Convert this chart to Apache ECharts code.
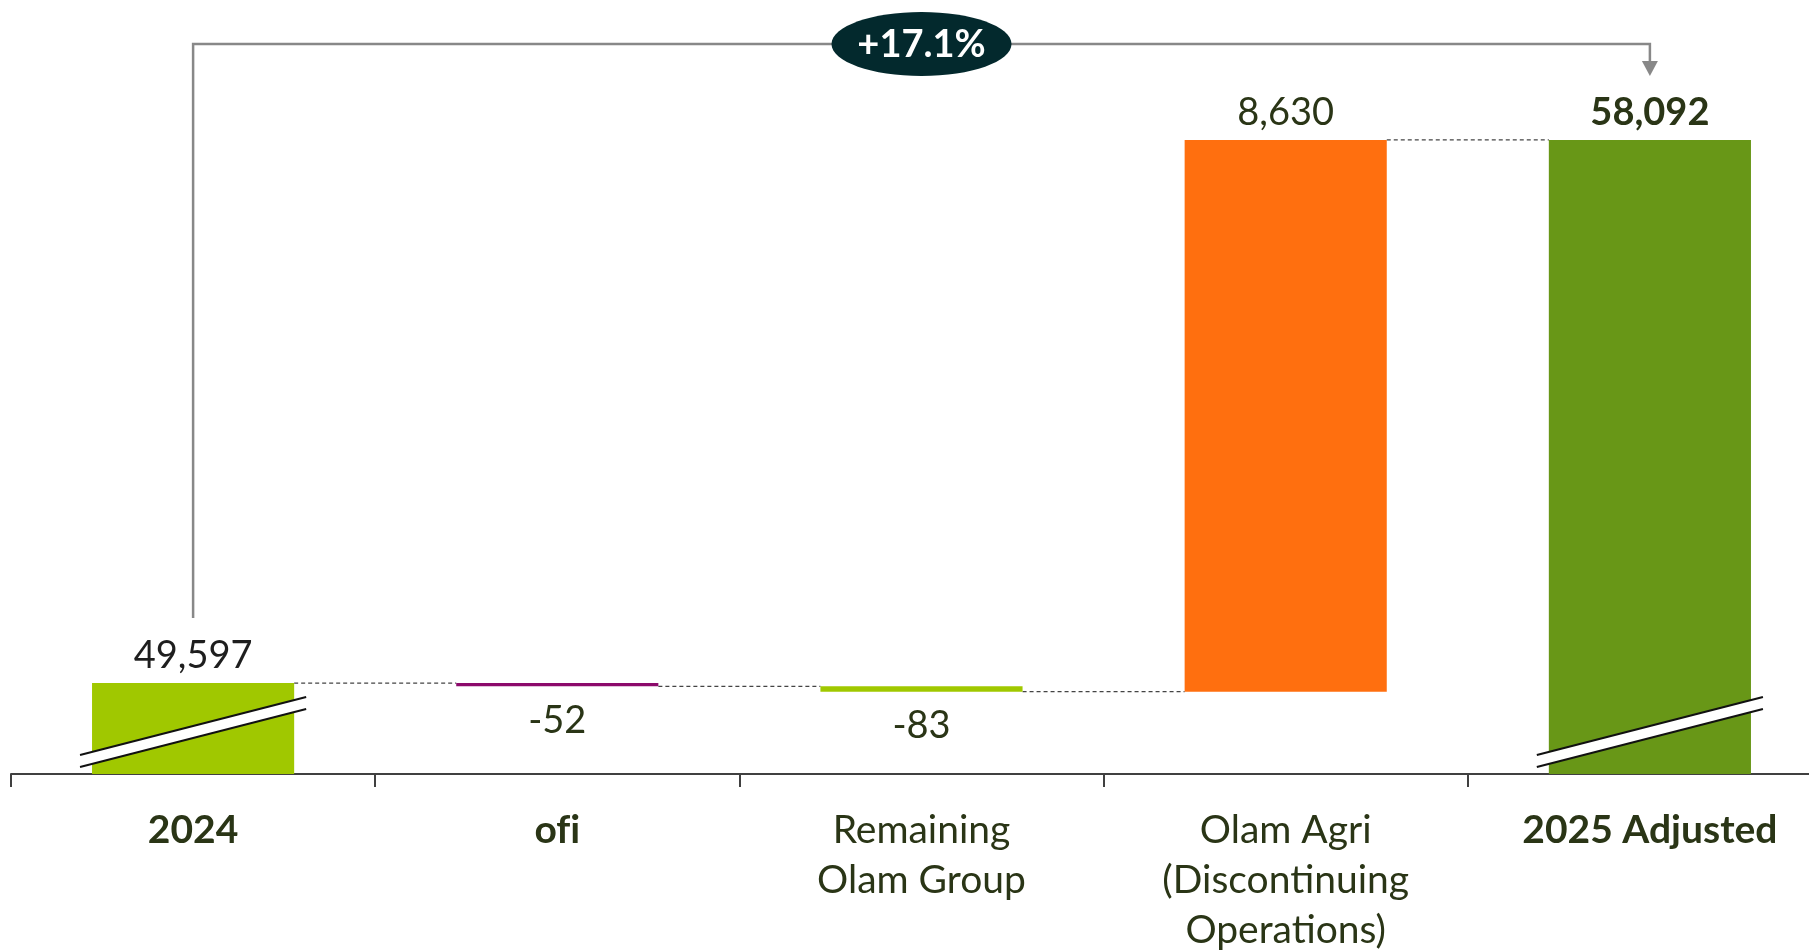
<!DOCTYPE html>
<html>
<head>
<meta charset="utf-8">
<script src="https://cdn.jsdelivr.net/npm/echarts@6/dist/echarts.min.js"></script>
<style>
html,body{margin:0;padding:0;background:#fff;}
#chart{width:1809px;height:951px;}
</style>
</head>
<body>
<div id="chart"></div>
<script>
const categories = ['2024', 'ofi', 'Remaining\nOlam Group', 'Olam Agri\n(Discontinuing\nOperations)', '2025 Adjusted'];
const amounts = [49597, -52, -83, 8630, 58092];
const totalFlags = [true, false, false, false, true];
const amountLabels = ['49,597', '-52', '-83', '8,630', '58,092'];
const boldCategories = [true, true, false, false, true];
const barColors = ['#A0C800', '#8C0A6B', '#A0C800', '#FF6F0F', '#689717'];
const changeLabel = '+17.1%';
const brokenBars = [0, 4];
const axisMin = 48174;
const axisMax = 60000;

const BAR_RATIO = 0.555;
const TEXT = '#2A3516';

// waterfall derivation
const base = [], delta = [], levels = [];
let running = 0;
amounts.forEach((a, i) => {
  if (totalFlags[i]) {
    base.push(0); delta.push(a); running = a;
  } else {
    const end = running + a;
    base.push(Math.min(running, end)); delta.push(Math.abs(a)); running = end;
  }
  levels.push(running);
});

const visibleData = delta.map((v, i) => {
  const neg = !totalFlags[i] && amounts[i] < 0;
  return {
    value: v,
    itemStyle: { color: barColors[i] },
    label: {
      show: true,
      position: neg ? 'bottom' : 'top',
      distance: neg ? 14 : 7,
      formatter: amountLabels[i],
      fontFamily: 'Lato',
      fontSize: 38,
      lineHeight: 40,
      fontWeight: i === 4 ? 'bold' : 'normal',
      color: i === 0 ? '#1E1E1E' : TEXT
    }
  };
});

// avoid the typographic "fi" ligature so the label looks like the original
const noLigature = s => s.replace(/fi/g, 'f\u200Ci');

const chart = echarts.init(document.getElementById('chart'));
chart.setOption({
  animation: false,
  backgroundColor: '#ffffff',
  grid: { left: 11, width: 1821, top: 18, bottom: 177, containLabel: false, outerBoundsMode: 'none' },
  xAxis: {
    type: 'category',
    data: categories,
    boundaryGap: true,
    axisLine: { show: true, lineStyle: { color: '#404040', width: 2 } },
    axisTick: { show: true, length: 13, lineStyle: { color: '#404040', width: 2 } },
    axisLabel: {
      interval: 0,
      margin: 31,
      fontFamily: 'Lato',
      fontSize: 39,
      lineHeight: 50,
      color: TEXT,
      hideOverlap: false,
      formatter: (val, idx) => boldCategories[idx] ? '{b|' + noLigature(val) + '}' : noLigature(val),
      rich: {
        b: { fontFamily: 'Lato', fontSize: 39, lineHeight: 50, fontWeight: 'bold', color: TEXT }
      }
    }
  },
  yAxis: {
    type: 'value', min: axisMin, max: axisMax, show: false,
    splitLine: { show: false }
  },
  series: [
    {
      type: 'bar', stack: 'wf', barWidth: (BAR_RATIO * 100) + '%',
      itemStyle: { color: 'transparent' }, emphasis: { disabled: true },
      data: base, silent: true
    },
    {
      type: 'bar', stack: 'wf', barWidth: (BAR_RATIO * 100) + '%',
      data: visibleData, emphasis: { disabled: true }
    },
    {
      // dashed connectors between bars
      type: 'custom', silent: true, z: 1,
      data: levels.slice(0, levels.length - 1).map((lv, i) => [i, lv]),
      renderItem: (params, api) => {
        const i = api.value(0), lv = api.value(1);
        const p1 = api.coord([i, lv]);
        const p2 = api.coord([i + 1, lv]);
        const half = api.size([1, 0])[0] * BAR_RATIO / 2;
        return {
          type: 'line',
          shape: { x1: p1[0] + half, y1: p1[1], x2: p2[0] - half, y2: p2[1] },
          style: { stroke: '#444444', lineWidth: 1.3, lineDash: [4, 3] }
        };
      }
    },
    {
      // axis-break marks on the total bars
      type: 'custom', silent: true, z: 5, clip: false,
      data: brokenBars.map(i => [i, axisMin]),
      renderItem: (params, api) => {
        const p = api.coord([api.value(0), api.value(1)]);
        const w = api.size([1, 0])[0] * BAR_RATIO + 24;
        const xl = p[0] - w / 2, xr = p[0] + w / 2, y = p[1];
        return {
          type: 'group',
          children: [
            { type: 'polygon', shape: { points: [[xl, y - 19], [xr, y - 77], [xr, y - 65], [xl, y - 7]] }, style: { fill: '#ffffff' } },
            { type: 'line', shape: { x1: xl, y1: y - 19, x2: xr, y2: y - 77 }, style: { stroke: '#111', lineWidth: 2 } },
            { type: 'line', shape: { x1: xl, y1: y - 7, x2: xr, y2: y - 65 }, style: { stroke: '#111', lineWidth: 2 } }
          ]
        };
      }
    },
    {
      // growth bracket with arrow and badge
      type: 'custom', silent: true, z: 6, clip: false,
      data: [[0, levels[0], 4, levels[4]]],
      renderItem: (params, api) => {
        const a = api.coord([api.value(0), api.value(1)]);
        const b = api.coord([api.value(2), api.value(3)]);
        const mid = api.coord([2, api.value(3)]);
        const hy = Math.min(a[1], b[1]) - 96;
        const leftBottom = a[1] - 65;
        const tipY = b[1] - 64;
        const col = '#888888';
        return {
          type: 'group',
          children: [
            { type: 'polyline', shape: { points: [[a[0], leftBottom], [a[0], hy], [b[0], hy], [b[0], tipY - 13]] }, style: { stroke: col, lineWidth: 2.5, fill: null } },
            { type: 'polygon', shape: { points: [[b[0] - 8, tipY - 15], [b[0] + 8, tipY - 15], [b[0], tipY]] }, style: { fill: col } },
            { type: 'ellipse', shape: { cx: mid[0], cy: hy, rx: 90, ry: 32 }, style: { fill: '#03292D' } },
            { type: 'text', x: mid[0], y: hy + 1, style: { text: changeLabel, fill: '#ffffff', font: 'bold 38px Lato', align: 'center', verticalAlign: 'middle' } }
          ]
        };
      }
    }
  ]
});
</script>
</body>
</html>
